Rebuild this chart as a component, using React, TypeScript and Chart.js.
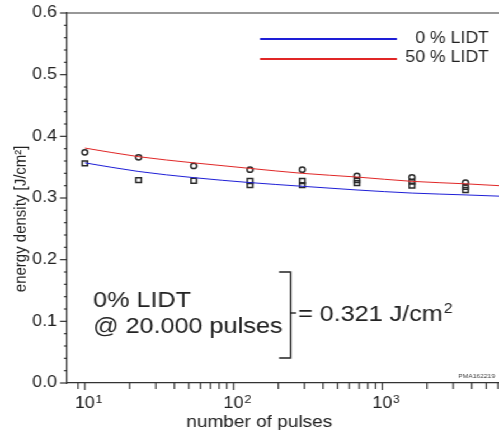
import React, { useEffect, useRef } from 'react';
import { Chart, registerables } from 'chart.js';

Chart.register(...registerables);

// ---------- data ----------
const fitPulses = [10, 23, 54, 129, 290, 676, 1585, 3630, 6100];
const fit0Values = [0.357, 0.343, 0.333, 0.325, 0.319, 0.313, 0.308, 0.305, 0.303];
const fit50Values = [0.381, 0.367, 0.357, 0.348, 0.340, 0.334, 0.327, 0.323, 0.320];

const circlePulses = [10, 23, 54, 129, 290, 676, 1585, 3630];
const circleValues = [0.374, 0.366, 0.352, 0.346, 0.346, 0.336, 0.3335, 0.325];

const squarePulses = [10, 23, 54, 129, 129, 290, 290, 676, 676, 1585, 1585, 3630, 3630];
const squareValues = [0.356, 0.329, 0.328, 0.3276, 0.321, 0.3276, 0.321, 0.329, 0.324, 0.3265, 0.32, 0.318, 0.313];

const seriesLabels = ['0 % LIDT', '50 % LIDT'];
const seriesColors = ['#1e1ed6', '#e02626'];

const xRange = [7.6, 6100];
const yRange = [0, 0.6];
const yStep = 0.02;

const xTitle = 'number of pulses';
const yTitle = 'energy density [J/cm\u00B2]';
const noteLines = ['0% LIDT', '@ 20.000 pulses'];
const noteResult = ['= 0.321 J/cm', '2'];
const figureId = 'PMA162219';

// ---------- style ----------
const FONT = '"Liberation Sans", Arial, Helvetica, sans-serif';
const CANVAS_W = 446;
const CANVAS_H = 437;
const STRETCH = 499 / CANVAS_W;
const AXIS = '#333333';
const TEXT = '#222222';
const MARK = '#2a2a2a';

const log10 = (v: number) => Math.log(v) / Math.LN10;
const isPow10 = (v: number) => Math.abs(log10(v) - Math.round(log10(v))) < 1e-9;
const isLogStep = (v: number) => {
  const e = Math.floor(log10(v) + 1e-9);
  const s = v / Math.pow(10, e);
  return Math.abs(s - Math.round(s)) < 1e-6;
};
const isMajorY = (v: number) => Math.abs(v * 10 - Math.round(v * 10)) < 1e-6;

const decorPlugin = {
  id: 'decor',
  afterDraw(chart: any) {
    const { ctx, chartArea: ca, scales } = chart;
    const xs = scales.x;
    const ys = scales.y;
    ctx.save();
    ctx.strokeStyle = AXIS;
    ctx.lineWidth = 1.2;
    const seg = (x1: number, y1: number, x2: number, y2: number) => {
      ctx.beginPath();
      ctx.moveTo(x1, y1);
      ctx.lineTo(x2, y2);
      ctx.stroke();
    };
    // top frame line
    seg(ca.left, ca.top, ca.right, ca.top);
    // y ticks (outward)
    ys.ticks.forEach((t: any) => {
      const p = ys.getPixelForValue(t.value);
      const len = isMajorY(t.value) ? 6.3 : 2.8;
      seg(ca.left - len, p, ca.left, p);
    });
    // x ticks (outward) and power-of-ten labels with superscript exponents
    ctx.fillStyle = TEXT;
    ctx.textBaseline = 'alphabetic';
    xs.ticks.forEach((t: any) => {
      if (!isLogStep(t.value)) return;
      const p = xs.getPixelForValue(t.value);
      if (p < ca.left - 0.5 || p > ca.right + 0.5) return;
      const major = isPow10(t.value);
      seg(p, ca.bottom, p, ca.bottom + (major ? 7 : 6));
      if (major) {
        const e = String(Math.round(log10(t.value)));
        ctx.font = `16px ${FONT}`;
        ctx.textAlign = 'center';
        ctx.fillText('10', p, ca.bottom + 25.3);
        const w = ctx.measureText('10').width;
        ctx.font = `11px ${FONT}`;
        ctx.textAlign = 'left';
        ctx.fillText(e, p + w / 2 + 0.8, ca.bottom + 20);
      }
    });

    // legend (line datasets only)
    const lineSets = chart.data.datasets.filter((d: any) => d.showLine);
    ctx.font = `15.8px ${FONT}`;
    ctx.textAlign = 'right';
    lineSets.forEach((d: any, i: number) => {
      const ly = 39 + i * 20;
      ctx.strokeStyle = d.borderColor;
      ctx.lineWidth = 2;
      seg(ca.right - 213.6, ly, ca.right - 91.2, ly);
      ctx.fillStyle = TEXT;
      ctx.fillText(d.label, ca.right - 9, ly + 3.8 - i * 0.8);
    });

    // annotation
    ctx.fillStyle = TEXT;
    ctx.textAlign = 'left';
    ctx.font = `22.5px ${FONT}`;
    noteLines.forEach((s, i) => ctx.fillText(s, 83.2, 307 + i * 26));
    ctx.strokeStyle = TEXT;
    ctx.lineWidth = 1.4;
    const bx = 259.7;
    ctx.beginPath();
    ctx.moveTo(bx - 10.3, 272);
    ctx.lineTo(bx, 272);
    ctx.lineTo(bx, 358);
    ctx.lineTo(bx - 10.3, 358);
    ctx.stroke();
    seg(bx, 313, bx + 5, 313);
    ctx.fillText(noteResult[0], 266.4, 320.7);
    const rw = ctx.measureText(noteResult[0]).width;
    ctx.font = `14px ${FONT}`;
    ctx.fillText(noteResult[1], 266.4 + rw + 1, 313);

    // figure id
    ctx.font = `6px ${FONT}`;
    ctx.fillStyle = '#444444';
    ctx.textAlign = 'right';
    ctx.fillText(figureId, ca.right - 3.5, 378.3);
    ctx.restore();
  },
};

export default function App() {
  const canvasRef = useRef<HTMLCanvasElement | null>(null);

  useEffect(() => {
    const canvas = canvasRef.current;
    if (!canvas) return;
    const toPts = (xs: number[], ys: number[]) => xs.map((x, i) => ({ x, y: ys[i] }));
    const chart = new Chart(canvas, {
      type: 'scatter',
      data: {
        datasets: [
          {
            label: seriesLabels[0],
            data: toPts(fitPulses, fit0Values),
            showLine: true,
            borderColor: seriesColors[0],
            borderWidth: 1,
            pointRadius: 0,
            cubicInterpolationMode: 'monotone',
          },
          {
            label: seriesLabels[1],
            data: toPts(fitPulses, fit50Values),
            showLine: true,
            borderColor: seriesColors[1],
            borderWidth: 1,
            pointRadius: 0,
            cubicInterpolationMode: 'monotone',
          },
          {
            label: 'circles',
            data: toPts(circlePulses, circleValues),
            showLine: false,
            pointStyle: 'circle',
            pointRadius: 2.6,
            borderColor: MARK,
            backgroundColor: 'rgba(255,255,255,0)',
            borderWidth: 1.5,
          },
          {
            label: 'squares',
            data: toPts(squarePulses, squareValues),
            showLine: false,
            pointStyle: 'rect',
            pointRadius: 3.4,
            borderColor: MARK,
            backgroundColor: 'rgba(255,255,255,0)',
            borderWidth: 1.5,
          },
        ],
      } as any,
      options: {
        responsive: false,
        animation: false,
        devicePixelRatio: 1,
        layout: { autoPadding: false, padding: { top: 13, left: 0, right: 0, bottom: 0 } },
        plugins: { legend: { display: false }, tooltip: { enabled: false } },
        scales: {
          x: {
            type: 'logarithmic',
            min: xRange[0],
            max: xRange[1],
            afterFit: (s: any) => {
              s.height = CANVAS_H - 383;
              s.paddingLeft = 0;
              s.paddingRight = 0;
            },
            border: { display: true, color: AXIS, width: 1.2 },
            grid: { display: false, drawTicks: true, tickLength: 7 },
            ticks: {
              autoSkip: false,
              maxRotation: 0,
              padding: 3,
              color: TEXT,
              font: { family: FONT, size: 16 },
              callback: () => '',
            },
            title: {
              display: true,
              text: xTitle + '         ',
              color: TEXT,
              font: { family: FONT, size: 17 },
              padding: { top: 0, bottom: 4 },
            },
          },
          y: {
            type: 'linear',
            min: yRange[0],
            max: yRange[1],
            afterFit: (s: any) => {
              s.width = 60;
              s.paddingTop = 0;
              s.paddingBottom = 0;
            },
            border: { display: true, color: AXIS, width: 1.2 },
            grid: { display: false, drawTicks: true, tickLength: 6 },
            ticks: {
              stepSize: yStep,
              autoSkip: false,
              padding: 3,
              color: TEXT,
              font: { family: FONT, size: 16 },
              callback: (v: any) => (isMajorY(Number(v)) ? Number(v).toFixed(1) : ''),
            },
            title: {
              display: true,
              text: yTitle + '          ',
              color: TEXT,
              font: { family: FONT, size: 15 },
              padding: { top: 10, bottom: 0 },
            },
          },
        },
      } as any,
      plugins: [decorPlugin],
    });
    return () => chart.destroy();
  }, []);

  return (
    <div
      style={{
        position: 'fixed',
        left: 0,
        top: 0,
        width: CANVAS_W,
        height: CANVAS_H,
        transform: `scaleX(${STRETCH})`,
        transformOrigin: '0 0',
        background: '#ffffff',
      }}
    >
      <canvas ref={canvasRef} width={CANVAS_W} height={CANVAS_H} style={{ display: 'block' }} />
    </div>
  );
}
